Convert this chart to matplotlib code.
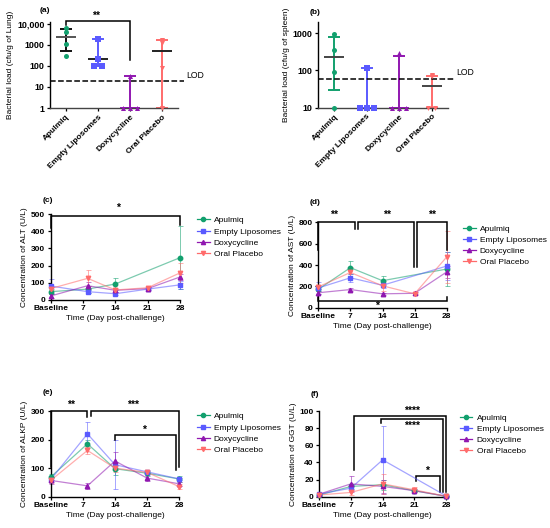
import numpy as np
import matplotlib
matplotlib.use('Agg')
import matplotlib.pyplot as plt
from matplotlib.lines import Line2D

plt.rcParams['font.family'] = ['Liberation Sans', 'DejaVu Sans']
plt.rcParams['font.weight'] = 'bold'
plt.rcParams['font.size'] = 6
plt.rcParams['axes.linewidth'] = 1.0

groups = ['Apulmiq', 'Empty Liposomes', 'Doxycycline', 'Oral Placebo']
colors = ['#12a06e', '#5a5aff', '#9017b0', '#ff6b6b']
markers = ['o', 's', '^', 'v']

# (a) lung bacterial load
lung_points = [[6500, 4200, 1100, 300], [1860, 208, 103, 103], [1, 1, 1, 32], [1800, 1300, 83, 1]]
lung_center = [2500, 208, 1, 520]
lung_low = [500, 103, 1, 1]
lung_high = [5500, 1860, 32, 1800]
lung_lod = 19

# (b) spleen bacterial load
spleen_points = [[930, 355, 89, 10], [115, 10, 10, 10], [300, 10, 10, 10], [75, 70, 10, 10]]
spleen_center = [222, 10, 10, 38]
spleen_low = [29, 10, 10, 10]
spleen_high = [790, 115, 240, 70]
spleen_lod = 58

day_ticks = [0, 7, 14, 21, 28]
day_labels = ['Baseline', '7', '14', '21', '28']
nan = np.nan

# (c) ALT
alt_days = [0, 8, 14, 21, 28]
alt_mean = [[47, 62, 92, nan, 246], [80, 47, 35, 62, 87], [22, 82, 55, 65, 133], [65, 125, 57, 70, 157]]
alt_sd = [[15, 20, 33, nan, 184], [42, 10, 8, 5, 25], [10, 20, 10, 8, 20], [10, 47, 10, 8, 58]]

# (d) AST
ast_days = [0, 7, 14, 21, 28]
ast_mean = [[172, 375, 253, nan, 362], [185, 280, 210, nan, 390], [140, 170, 130, 135, 335], [195, 330, 205, 130, 475]]
ast_sd = [[20, 60, 42, nan, 162], [55, 40, 25, nan, 130], [15, 15, 10, 10, 55], [20, 50, 45, 10, 240]]

# (e) ALKP
alkp_days = [0, 8, 14, 21, 28]
alkp_mean = [[69, 185, 98, 82, 62], [60, 220, 112, 87, 62], [57, 38, 125, 65, 45], [57, 162, 100, 85, 35]]
alkp_sd = [[10, 15, 22, 8, 10], [8, 40, 85, 5, 5], [12, 10, 30, 10, 8], [8, 12, 12, 5, 8]]

# (f) GGT
ggt_days = [0, 7, 14, 21, 28]
ggt_mean = [[2, 12, 14, 7, 0.5], [3, 10, 43, nan, 1], [3, 15, 12, 7, 0.5], [2, 5, 15, 8, 0.5]]
ggt_sd = [[1, 3, 6, 2, 0.3], [1, 3, 40, nan, 0.5], [1, 9, 8, 2, 0.3], [1, 3, 12, 3, 0.3]]


def style_axes(ax):
    for s in ['top', 'right']:
        ax.spines[s].set_visible(False)
    ax.tick_params(length=2.5, width=0.9, pad=1.5, labelsize=6)


def bracket(ax, x1, x2, top, y1, y2, label, tx, ty):
    ax.plot([x1, x1, x2, x2], [y1, top, top, y2], color='black', lw=1.1,
            clip_on=False, solid_joinstyle='miter')
    ax.text(tx, ty, label, ha='center', va='center', fontsize=7.5)


def spread(vals):
    offs = np.zeros(len(vals))
    for v in set(vals):
        idx = [k for k, w in enumerate(vals) if w == v]
        n = len(idx)
        if n > 1:
            offs[idx] = np.linspace(-0.11 * (n - 1), 0.11 * (n - 1), n)
    return offs


def dot_panel(ax, points, center, low, high, err_cols, cen_cols, lod, ylim, yticks, ytl, ylabel):
    ax.set_yscale('log')
    for i in range(4):
        ax.vlines(i, low[i], high[i], color=err_cols[i], lw=1.4, zorder=2)
        ax.hlines([low[i], high[i]], i - 0.19, i + 0.19, color=err_cols[i], lw=1.4, zorder=2)
        ax.hlines(center[i], i - 0.31, i + 0.31, color=cen_cols[i], lw=1.4, zorder=3)
        ax.scatter(i + spread(points[i]), points[i], marker=markers[i], s=13,
                   color=colors[i], zorder=4, clip_on=False, linewidths=0)
    ax.plot([-0.5, 3.7], [lod, lod], ls='--', color='black', lw=1.1, clip_on=False)
    ax.text(3.75, lod * 1.12, 'LOD', fontsize=6.2, fontweight='normal', va='bottom', ha='left')
    ax.set_xlim(-0.5, 3.5)
    ax.set_ylim(*ylim)
    ax.set_yticks(yticks)
    ax.set_yticklabels(ytl)
    ax.yaxis.set_minor_locator(matplotlib.ticker.NullLocator())
    ax.set_xticks(range(4))
    ax.set_xticklabels(groups, rotation=45, ha='right', rotation_mode='anchor')
    ax.set_ylabel(ylabel, fontsize=6, labelpad=2)
    style_axes(ax)
    ax.tick_params(axis='y', labelsize=6.4)
    ax.spines['bottom'].set_color('#444444')


def line_panel(ax, days, means, sds, ymax, ystep, ylabel):
    d = np.array(days, float)
    for i in range(4):
        m = np.array(means[i], float)
        s = np.array(sds[i], float)
        ok = ~np.isnan(m)
        ax.errorbar(d[ok], m[ok], yerr=s[ok], color=colors[i], alpha=0.55, lw=0.9,
                    elinewidth=0.7, capsize=1.8, capthick=0.7, fmt='-', clip_on=False)
        ax.plot(d[ok], m[ok], ls='none', marker=markers[i], ms=3.2, color=colors[i],
                clip_on=False, zorder=4)
    ax.set_xlim(0, 28)
    ax.set_ylim(0, ymax)
    ax.set_yticks(np.arange(0, ymax + 1, ystep))
    ax.set_xticks(day_ticks)
    ax.set_xticklabels(day_labels)
    ax.set_xlabel('Time (Day post-challenge)', fontsize=6, labelpad=2)
    ax.set_ylabel(ylabel, fontsize=6, labelpad=2)
    style_axes(ax)


def add_legend(ax, x, y):
    handles = [Line2D([], [], color=colors[i], marker=markers[i], ms=3, lw=0.9)
               for i in range(4)]
    ax.legend(handles, groups, loc='upper left', bbox_to_anchor=(x / 550, 1 - y / 528),
              bbox_transform=fig.transFigure, frameon=False, borderpad=0, borderaxespad=0,
              handlelength=1.5, handletextpad=0.5, labelspacing=0.4,
              prop={'weight': 'normal', 'size': 6})


fig = plt.figure(figsize=(5.5, 5.28), dpi=100)

def add_ax(l, r, t, b):
    return fig.add_axes([l / 550, 1 - b / 528, (r - l) / 550, (b - t) / 528])

ax_a = add_ax(50, 178, 22, 108)
ax_b = add_ax(318, 448, 22, 107.5)
ax_c = add_ax(50.7, 180, 214.3, 299.7)
ax_d = add_ax(318.3, 446.7, 222.3, 307.7)
ax_e = add_ax(50.7, 179.3, 411, 496.7)
ax_f = add_ax(319.3, 446, 411, 496.7)

dot_panel(ax_a, lung_points, lung_center, lung_low, lung_high,
          ['#111111', colors[1], colors[2], colors[3]],
          ['#555555', '#222222', colors[2], '#222222'],
          lung_lod, (1, 12300), [1, 10, 100, 1000, 10000],
          ['1', '10', '100', '1000', '10,000'], 'Bacterial load (cfu/g of Lung)')
bracket(ax_a, 0, 2, 14000, 9000, 186, '**', 0.93, 24000)

dot_panel(ax_b, spleen_points, spleen_center, spleen_low, spleen_high,
          colors, ['#444444', colors[1], colors[2], '#444444'],
          spleen_lod, (10, 2000), [10, 100, 1000], ['10', '100', '1000'],
          'Bacterial load (cfu/g of spleen)')

line_panel(ax_c, alt_days, alt_mean, alt_sd, 500, 100, 'Concentration of ALT (U/L)')
bracket(ax_c, 0, 28, 490, 420, 440, '*', 14.5, 540)
add_legend(ax_c, 197, 216.5)

line_panel(ax_d, ast_days, ast_mean, ast_sd, 800, 200, 'Concentration of AST (U/L)')
bracket(ax_d, 0, 7.9, 800, 537, 733, '**', 3.5, 870)
bracket(ax_d, 8.6, 20.9, 800, 733, 385, '**', 15, 870)
bracket(ax_d, 21.6, 28, 800, 385, 540, '**', 24.9, 870)
bracket(ax_d, 0, 28, 60, 100, 100, '*', 12.9, 15)
add_legend(ax_d, 463, 225)

line_panel(ax_e, alkp_days, alkp_mean, alkp_sd, 300, 100, 'Concentration of ALKP (U/L)')
bracket(ax_e, 0, 8, 300, 103, 280, '**', 4.4, 322)
bracket(ax_e, 8.7, 28, 300, 282, 103, '***', 18, 322)
bracket(ax_e, 14, 27.2, 216, 198, 93, '*', 20.3, 233)
add_legend(ax_e, 197, 412.5)

line_panel(ax_f, ggt_days, ggt_mean, ggt_sd, 100, 20, 'Concentration of GGT (U/L)')
bracket(ax_f, 7.7, 28, 94, 31, 5, '****', 20.6, 100)
bracket(ax_f, 13.6, 27.4, 90.6, 86.4, 6, '****', 20.6, 83)
bracket(ax_f, 21.4, 26.7, 24, 18, 6, '*', 23.9, 30)
add_legend(ax_f, 460, 414)

for lab, x, y in [('(a)', 45, 10), ('(b)', 315, 12), ('(c)', 48, 200.7),
                  ('(d)', 315, 203), ('(e)', 48, 392.3), ('(f)', 315, 394.3)]:
    fig.text(x / 550, 1 - y / 528, lab, ha='center', va='center', fontsize=6)

fig.savefig('out.png', dpi=100)
